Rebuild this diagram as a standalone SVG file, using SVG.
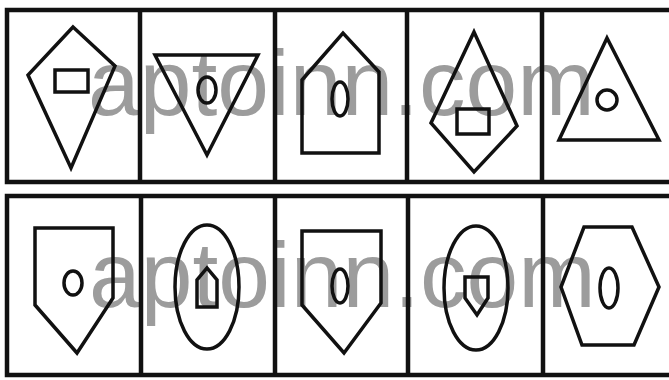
<svg xmlns="http://www.w3.org/2000/svg" width="669" height="380" viewBox="0 0 669 380">
<style>
.frame{fill:none;stroke:#111;stroke-width:4.5}
.sh{fill:none;stroke:#111;stroke-width:3.5;stroke-linejoin:miter}
.wm{font-family:"Liberation Sans",Arial,sans-serif;font-size:93px;fill:#9c9c9c}
</style>
<rect width="669" height="380" fill="#fff"/>
<g id="watermark">
<text class="wm" x="88" y="115">aptoinn.com</text>
<text class="wm" x="89" y="307">aptoinn.com</text>
</g>
<g id="frames">
<path class="frame" d="M672,10 H7 V182 H672 M140,10 V182 M275,10 V182 M407,10 V182 M542,10 V182"/>
<path class="frame" d="M672,196 H7 V375 H672 M141,196 V375 M275,196 V375 M408,196 V375 M543,196 V375"/>
</g>
<g id="t1">
<polygon class="sh" points="73,27 115,66 71,168 28,75"/>
<rect class="sh" x="55" y="70" width="33" height="22"/>
</g>
<g id="t2">
<polygon class="sh" points="155,55 258,55 207,155"/>
<ellipse class="sh" cx="207" cy="90" rx="9" ry="13"/>
</g>
<g id="t3">
<polygon class="sh" points="302,80 343,33 379,72 379,153 302,153"/>
<ellipse class="sh" cx="340" cy="99" rx="8" ry="17"/>
</g>
<g id="t4">
<polygon class="sh" points="474,32 517,126 474,172 431,123"/>
<rect class="sh" x="457" y="109" width="32" height="25"/>
</g>
<g id="t5">
<polygon class="sh" points="607,38 659,140 559,140"/>
<circle class="sh" cx="607" cy="100" r="10"/>
</g>
<g id="b1">
<polygon class="sh" points="35,228 113,228 113,298 77,353 35,305"/>
<ellipse class="sh" cx="73" cy="283" rx="9" ry="12"/>
</g>
<g id="b2">
<ellipse class="sh" cx="207" cy="287" rx="32" ry="62"/>
<polygon class="sh" points="197,307 197,280 207,268 217,280 217,307"/>
</g>
<g id="b3">
<polygon class="sh" points="302,231 381,231 381,303 344,353 302,305"/>
<ellipse class="sh" cx="340" cy="286" rx="8" ry="17"/>
</g>
<g id="b4">
<ellipse class="sh" cx="476" cy="288" rx="32" ry="62"/>
<polygon class="sh" points="465,277 488,277 488,298 477,315 465,298"/>
</g>
<g id="b5">
<polygon class="sh" points="561,287 584,227 632,227 659,287 634,345 582,345"/>
<ellipse class="sh" cx="609" cy="288" rx="9" ry="20"/>
</g>
</svg>
